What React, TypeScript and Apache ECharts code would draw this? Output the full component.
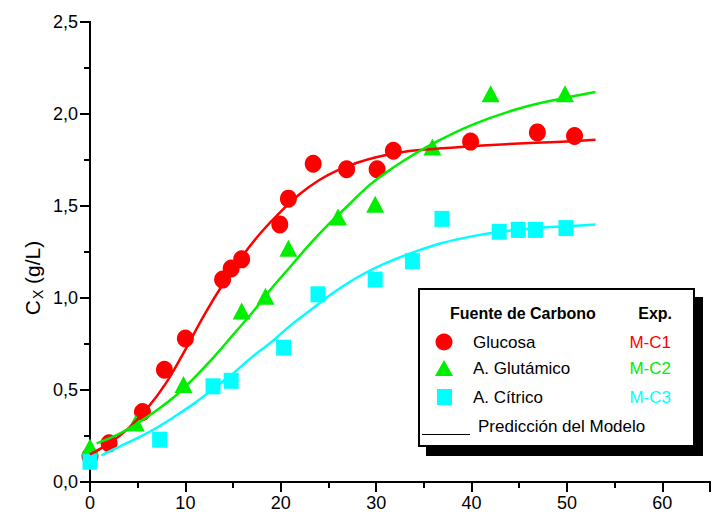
import React, { useEffect, useRef } from 'react';
import * as echarts from 'echarts';

// Experimental data
const glucosaX = [0, 2, 5.5, 7.8, 10, 13.9, 14.8, 15.9, 19.9, 20.8, 23.4, 26.9, 30.1, 31.8, 39.9, 46.9, 50.8];
const glucosaY = [0.14, 0.21, 0.38, 0.61, 0.78, 1.1, 1.16, 1.21, 1.4, 1.54, 1.73, 1.7, 1.7, 1.8, 1.85, 1.9, 1.88];
const glutamicoX = [0, 4.8, 9.8, 15.9, 18.4, 20.8, 26, 29.9, 35.9, 42, 49.8];
const glutamicoY = [0.19, 0.32, 0.53, 0.93, 1.01, 1.27, 1.44, 1.51, 1.82, 2.11, 2.11];
const citricoX = [0, 7.3, 12.9, 14.8, 20.3, 23.9, 29.9, 33.8, 36.9, 42.9, 44.9, 46.7, 49.9];
const citricoY = [0.11, 0.23, 0.52, 0.55, 0.73, 1.02, 1.1, 1.2, 1.43, 1.36, 1.37, 1.37, 1.38];

// Model prediction
const modeloC1X = [0, 2, 4, 6, 8, 10, 12, 14, 16, 18, 20, 22, 24, 26, 28, 30, 33, 36, 40, 45, 50, 53];
const modeloC1Y = [0.15, 0.21, 0.29, 0.4, 0.54, 0.72, 0.91, 1.08, 1.23, 1.36, 1.47, 1.565, 1.64, 1.695, 1.735, 1.765, 1.795, 1.81, 1.825, 1.84, 1.85, 1.86];
const modeloC2X = [0.7, 3, 5, 7, 9, 11, 13, 15, 17, 19, 21, 23, 25, 27, 29, 31, 33, 36, 40, 45, 50, 53];
const modeloC2Y = [0.21, 0.26, 0.32, 0.39, 0.47, 0.57, 0.68, 0.8, 0.92, 1.05, 1.17, 1.29, 1.4, 1.5, 1.6, 1.68, 1.75, 1.84, 1.94, 2.03, 2.09, 2.12];
const modeloC3X = [1.2, 3, 5, 7, 9, 11, 13, 15, 17, 19, 21, 23, 25, 27, 29, 31, 34, 37, 40, 43, 47, 50, 53];
const modeloC3Y = [0.145, 0.19, 0.24, 0.295, 0.36, 0.43, 0.51, 0.59, 0.68, 0.76, 0.85, 0.93, 1.01, 1.08, 1.14, 1.19, 1.25, 1.3, 1.335, 1.36, 1.38, 1.39, 1.4];

const xTicks = [0, 10, 20, 30, 40, 50, 60];
const yTickLabels = ['0,0', '0,5', '1,0', '1,5', '2,0', '2,5'];

const legendRows = [
  { name: 'Glucosa', exp: 'M-C1', color: '#ff0000' },
  { name: 'A. Glutámico', exp: 'M-C2', color: '#00ee00' },
  { name: 'A. Cítrico', exp: 'M-C3', color: '#00ffff' },
];

const RED = '#ff0000';
const GREEN = '#00ee00';
const CYAN = '#00ffff';
const FONT = 'Liberation Sans, Arial, sans-serif';

const zip = (xs: number[], ys: number[]) => xs.map((x, i) => [x, ys[i]]);

export default function App() {
  const ref = useRef<HTMLDivElement>(null);
  useEffect(() => {
    if (!ref.current) return;
    const chart = echarts.init(ref.current, null, { renderer: 'svg' });
    const axisLine = { show: true, lineStyle: { color: '#000', width: 2 } };
    const xBase = {
      type: 'value' as const,
      min: 0,
      max: 65,
      interval: 10,
      splitLine: { show: false },
    };
    const yBase = {
      type: 'value' as const,
      min: 0,
      max: 2.5,
      interval: 0.5,
      splitLine: { show: false },
    };
    const rowY = [342, 368, 397];
    const graphics: any[] = [
      {
        type: 'text',
        x: 32,
        y: 278,
        rotation: Math.PI / 2,
        style: {
          text: '{a|C}{b|X}{a| (g/L)}',
          align: 'center',
          verticalAlign: 'middle',
          rich: {
            a: { fontSize: 21, fontFamily: FONT, fill: '#000', lineHeight: 26, verticalAlign: 'middle' },
            b: { fontSize: 14, fontFamily: FONT, fill: '#000', lineHeight: 26, verticalAlign: 'bottom', padding: [0, 0, 0, 1] },
          },
        },
      },
      { type: 'rect', shape: { x: 426, y: 297, width: 277, height: 159 }, style: { fill: '#000' } },
      { type: 'rect', shape: { x: 419, y: 289, width: 275, height: 157 }, style: { fill: '#fff', stroke: '#000', lineWidth: 2 } },
      { type: 'text', x: 450, y: 313, style: { text: 'Fuente de Carbono', font: `bold 16px ${FONT}`, fill: '#000', verticalAlign: 'middle' } },
      { type: 'text', x: 672, y: 313, style: { text: 'Exp.', font: `bold 16px ${FONT}`, fill: '#000', align: 'right', verticalAlign: 'middle' } },
      { type: 'circle', shape: { cx: 444, cy: rowY[0], r: 8.5 }, style: { fill: RED } },
      { type: 'polygon', shape: { points: [[435, rowY[1] + 8], [453, rowY[1] + 8], [444, rowY[1] - 8]] }, style: { fill: GREEN } },
      { type: 'rect', shape: { x: 437, y: rowY[2] - 8, width: 15, height: 16 }, style: { fill: CYAN } },
      { type: 'text', x: 478, y: 426, style: { text: 'Predicción del Modelo', font: `17px ${FONT}`, fill: '#000', verticalAlign: 'middle' } },
      { type: 'line', shape: { x1: 422, y1: 434.5, x2: 470, y2: 434.5 }, style: { stroke: '#000', lineWidth: 1.2 } },
    ];
    legendRows.forEach((r, i) => {
      graphics.push({ type: 'text', x: 473, y: rowY[i], style: { text: r.name, font: `17px ${FONT}`, fill: '#000', verticalAlign: 'middle' } });
      graphics.push({ type: 'text', x: 671, y: rowY[i], style: { text: r.exp, font: `17px ${FONT}`, fill: r.color, align: 'right', verticalAlign: 'middle' } });
    });

    chart.setOption({
      animation: false,
      backgroundColor: '#fff',
      grid: { left: 90, top: 22, right: -8, bottom: 46, containLabel: false },
      xAxis: [
        {
          ...xBase,
          position: 'bottom',
          axisLine,
          axisTick: { show: true, inside: false, length: 8, lineStyle: { color: '#000', width: 2 } },
          minorTick: { show: true, splitNumber: 2, length: 5, lineStyle: { color: '#000', width: 2 } },
          axisLabel: {
            color: '#000',
            fontSize: 18,
            fontFamily: FONT,
            margin: 12,
            formatter: (v: number) => (xTicks.indexOf(v) >= 0 ? String(v) : ''),
          },
        },
        {
          ...xBase,
          position: 'top',
          axisLine,
          axisTick: { show: true, inside: true, length: 10, lineStyle: { color: '#000', width: 2 } },
          minorTick: { show: true, splitNumber: 2, length: 6, lineStyle: { color: '#000', width: 2 } },
          axisLabel: { show: false },
        },
      ],
      yAxis: [
        {
          ...yBase,
          position: 'left',
          axisLine,
          axisTick: { show: true, inside: false, length: 8, lineStyle: { color: '#000', width: 2 } },
          minorTick: { show: true, splitNumber: 2, length: 5, lineStyle: { color: '#000', width: 2 } },
          axisLabel: {
            color: '#000',
            fontSize: 18,
            fontFamily: FONT,
            margin: 12,
            formatter: (v: number) => yTickLabels[Math.round(v / 0.5)] ?? '',
          },
        },
        {
          ...yBase,
          position: 'right',
          axisLine,
          axisTick: { show: true, inside: true, length: 10, lineStyle: { color: '#000', width: 2 } },
          minorTick: { show: true, splitNumber: 2, length: 6, lineStyle: { color: '#000', width: 2 } },
          axisLabel: { show: false },
        },
      ],
      series: [
        { type: 'scatter', symbol: 'circle', symbolSize: [17, 18], itemStyle: { color: RED, opacity: 1 }, data: zip(glucosaX, glucosaY), z: 2 },
        { type: 'scatter', symbol: 'triangle', symbolSize: [18, 17], itemStyle: { color: GREEN, opacity: 1 }, data: zip(glutamicoX, glutamicoY), z: 2 },
        { type: 'scatter', symbol: 'rect', symbolSize: [15, 16], itemStyle: { color: CYAN, opacity: 1 }, data: zip(citricoX, citricoY), z: 2 },
        { type: 'line', smooth: 0.4, showSymbol: false, lineStyle: { color: RED, width: 2.5 }, data: zip(modeloC1X, modeloC1Y), z: 3 },
        { type: 'line', smooth: 0.4, showSymbol: false, lineStyle: { color: GREEN, width: 2.5 }, data: zip(modeloC2X, modeloC2Y), z: 3 },
        { type: 'line', smooth: 0.4, showSymbol: false, lineStyle: { color: CYAN, width: 2.5 }, data: zip(modeloC3X, modeloC3Y), z: 3 },
      ],
      graphic: graphics,
    });
    return () => chart.dispose();
  }, []);
  return (
    <div
      ref={ref}
      style={{ position: 'fixed', left: 0, top: 0, width: 713, height: 528, background: '#fff' }}
    />
  );
}
